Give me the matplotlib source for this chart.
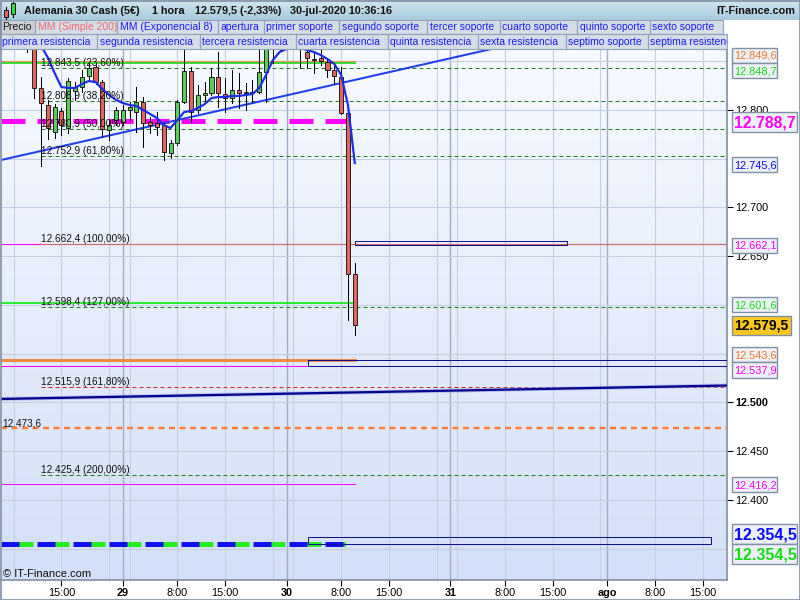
import matplotlib
matplotlib.use('Agg')
import matplotlib.pyplot as plt
import numpy as np
from matplotlib.patches import Rectangle
from matplotlib.colors import LinearSegmentedColormap
from matplotlib.transforms import Bbox, TransformedBbox

plt.rcParams['font.family'] = ['Liberation Sans', 'DejaVu Sans']
plt.rcParams['lines.scale_dashes'] = False

# ---------------- data ----------------
# hourly bars, hours relative to 29-jul-2020 00:00
hours = list(range(-14, 35))
opens = [12875, 12870, 12822.6, 12805.1, 12777.4, 12799.0, 12781.5, 12819.5, 12823.6, 12834.9,
         12844.1, 12828.7, 12779.5, 12789.7, 12787.7, 12800.0, 12798.0, 12808.2, 12787.7, 12786.6,
         12784.6, 12755.9, 12766.1, 12808.2, 12840.0, 12800.0, 12815.4, 12817.4, 12833.8, 12816.4,
         12812.3, 12820.5, 12817.4, 12817.4, 12818.4, 12839.0, 12871.8, 12868.0, 12872.0, 12870.0,
         12868.0, 12859.5, 12852.0, 12853.3, 12849.2, 12841.0, 12833.8, 12796.9, 12631.8]
highs = [12890, 12885, 12833.8, 12810.3, 12806.0, 12802.0, 12832.8, 12828.7, 12841.0, 12848.2,
         12846.1, 12830.8, 12789.7, 12803.0, 12805.0, 12808.2, 12823.6, 12813.3, 12792.8, 12798.0,
         12786.6, 12769.2, 12810.3, 12861.5, 12844.1, 12825.6, 12828.7, 12843.1, 12859.5, 12832.8,
         12841.0, 12837.9, 12827.7, 12830.8, 12864.6, 12880.0, 12882.0, 12878.0, 12880.0, 12876.0,
         12872.0, 12861.5, 12858.4, 12861.5, 12853.3, 12846.1, 12844.1, 12797.0, 12643.1]
lows = [12859.5, 12812.3, 12742.5, 12770.3, 12771.3, 12774.4, 12776.4, 12810.3, 12818.4, 12830.8,
        12826.7, 12772.3, 12769.2, 12785.0, 12784.6, 12789.7, 12777.4, 12762.0, 12776.4, 12774.4,
        12748.7, 12750.8, 12764.1, 12807.2, 12787.7, 12796.9, 12807.2, 12815.4, 12803.1, 12797.9,
        12807.2, 12802.0, 12800.0, 12808.2, 12817.4, 12808.2, 12848.2, 12862.0, 12866.0, 12864.0,
        12843.1, 12843.1, 12838.0, 12846.1, 12833.8, 12827.7, 12796.0, 12584.6, 12569.2]
closes = [12868, 12822.6, 12807.2, 12781.5, 12803.1, 12784.6, 12829.7, 12823.6, 12833.8, 12843.1,
          12828.7, 12780.5, 12784.6, 12800.0, 12800.0, 12803.1, 12808.2, 12786.6, 12784.6, 12782.5,
          12756.9, 12766.1, 12808.2, 12840.0, 12798.0, 12815.4, 12817.4, 12833.8, 12817.4, 12812.3,
          12820.5, 12817.4, 12818.4, 12818.4, 12839.0, 12871.8, 12868.0, 12872.0, 12870.0, 12866.0,
          12863.0, 12853.3, 12851.2, 12850.2, 12841.0, 12834.9, 12796.9, 12631.8, 12579.5]

ema_hours = list(range(-13, 35))
ema8 = [12878, 12866, 12854, 12838, 12823.6, 12822.6, 12822.6, 12826.7, 12829.7, 12828.7,
        12821.5, 12815.4, 12810.3, 12807.2, 12805.1, 12804.1, 12800.0, 12795.9, 12791.8, 12784.6,
        12781.5, 12789.7, 12798.0, 12799.0, 12802.0, 12806.1, 12812.3, 12813.3, 12813.3, 12814.4,
        12814.4, 12815.4, 12816.4, 12822.6, 12836.0, 12851.3, 12859.5, 12862.6, 12863.6, 12863.6,
        12861.5, 12859.5, 12856.4, 12852.3, 12847.2, 12836.0, 12805.1, 12745.6]

fib_levels = [12843.5, 12808.9, 12780.9, 12752.9, 12662.4, 12598.4, 12515.9, 12425.4]
fib_labels = ['12.843,5 (23,60%)', '12.808,9 (38,20%)', '12.780,9 (50,00%)', '12.752,9 (61,80%)',
              '12.662,4 (100,00%)', '12.598,4 (127,00%)', '12.515,9 (161,80%)', '12.425,4 (200,00%)']

orange_level = 12849.6
green_level = 12848.7
magenta_thick_level = 12788.7
magenta_level_1 = 12662.1
green_level_2 = 12601.6
orange_level_2 = 12543.6
magenta_level_2 = 12537.9
orange_dash_level = 12473.6
magenta_level_3 = 12416.2
bottom_level = 12354.5

trend_up_x = [-17.85, 55.3]
trend_up_y = [12748.7, 12864.6]
trend_low_x = [-17.85, 88.55]
trend_low_y = [12503.6, 12517.4]

rect_a = (34.1, 65.1, 12661.5, 12665.2)
rect_b = (27.07, 88.55, 12537.9, 12543.6)
rect_c = (27.07, 86.2, 12354.5, 12361.5)

xtick_pos = [-9, 0, 8, 15, 24, 32, 39, 48, 56, 63, 71, 78, 85]
xtick_lab = ['15:00', '29', '8:00', '15:00', '30', '8:00', '15:00', '31', '8:00', '15:00', 'ago', '8:00', '15:00']
day_labels = {'29', '30', '31', 'ago'}
grid_light = [-16, -9, -2, 1, 8, 15, 22, 25, 32, 39, 46, 49, 56, 63, 70, 78, 85]
grid_dark = [0, 24, 48, 71]
grid_y = [12350, 12400, 12450, 12500, 12550, 12600, 12650, 12700, 12750, 12800, 12850]
ytick_pos = [12400, 12450, 12500, 12650, 12700, 12800]

# ---------------- figure ----------------
W, H = 800, 600
PX = 0.72
fig = plt.figure(figsize=(8, 6), dpi=100)
fig.patch.set_facecolor('white')

AX_L, AX_R, AX_T, AX_B = 1, 727, 17, 580
ax = fig.add_axes([AX_L / W, 1 - AX_B / H, (AX_R - AX_L) / W, (AX_B - AX_T) / H])
XMIN, XMAX = -17.85, 88.55
YMIN, YMAX = 12317.9, 12895.4

grad = np.linspace(0, 1, 256).reshape(-1, 1)
bg = LinearSegmentedColormap.from_list('bg', ['#f9fbff', '#d4e0f7'])
ax.imshow(grad, extent=[XMIN, XMAX, YMIN, YMAX], origin='upper', aspect='auto', cmap=bg, zorder=0)
ax.set_xlim(XMIN, XMAX)
ax.set_ylim(YMIN, YMAX)

for v in grid_light:
    ax.axvline(v, color='#c6cfe0', lw=0.8, zorder=1)
for v in grid_dark:
    ax.axvline(v, color='#a2acc4', lw=1.0, zorder=1)
for p in grid_y:
    ax.axhline(p, color='#c6cfe0', lw=0.8, zorder=1)

x0, x_fib, x_end = XMIN, -12.0, XMAX
x_cut = 34.1

# fibonacci lines
for lev, lab in zip(fib_levels, fib_labels):
    if lab.startswith('12.662'):
        ax.plot([x0, x_fib], [magenta_level_1, magenta_level_1], color='#ff00ff', lw=1 * PX, zorder=2)
        ax.plot([x_fib, x_end], [lev, lev], color='#d06a6a', lw=1.2 * PX, zorder=2)
    elif lab.startswith('12.515'):
        ax.plot([x_fib, x_end], [lev, lev], color='#d42020', lw=1 * PX, dashes=(4 * PX, 3 * PX), zorder=2)
    else:
        ax.plot([x_fib, x_end], [lev, lev], color='#1e7d1e', lw=1 * PX, dashes=(4 * PX, 3 * PX), zorder=2)
    ax.text(x_fib, lev, lab, fontsize=7.2, va='bottom', ha='left', color='#111111', zorder=9)

# support / resistance lines
ax.plot([x0, x_cut], [orange_level] * 2, color='#f0904a', lw=2 * PX, zorder=3)
ax.plot([x0, x_cut], [green_level] * 2, color='#3cdc3c', lw=2 * PX, zorder=3)
ax.plot([x0, 33.4], [magenta_thick_level] * 2, color='#ff00ff', lw=5 * PX,
        dashes=(24 * PX, 12 * PX), solid_capstyle='butt', dash_capstyle='butt', zorder=3)
ax.plot([x0, x_cut], [green_level_2] * 2, color='#00ee00', lw=1.6 * PX, zorder=3)
ax.plot([x0, x_cut], [orange_level_2] * 2, color='#f08a3c', lw=3 * PX, zorder=3)
ax.plot([x0, 27.07], [magenta_level_2] * 2, color='#ff00ff', lw=1 * PX, zorder=3)
ax.plot([x0, x_end], [orange_dash_level] * 2, color='#ff7f3a', lw=2.5 * PX,
        dashes=(6 * PX, 4.5 * PX), dash_capstyle='butt', zorder=3)
ax.text(-17.6, orange_dash_level, '12.473,6', fontsize=7.2, va='bottom', ha='left', color='#111111', zorder=9)
ax.plot([x0, x_cut], [magenta_level_3] * 2, color='#ff00ff', lw=1 * PX, zorder=3)
ax.plot([x0, 32.6], [bottom_level] * 2, color='#1010ee', lw=5 * PX,
        dashes=(22 * PX, 14 * PX), dash_capstyle='butt', zorder=3)
ax.plot([x0, 32.6], [bottom_level] * 2, color='#22ee22', lw=5 * PX,
        dashes=(0, 18 * PX, 14 * PX, 4 * PX), dash_capstyle='butt', zorder=3)

for (ra, rb, rc, rd) in [rect_a, rect_b, rect_c]:
    ax.add_patch(Rectangle((ra, rc), rb - ra, rd - rc, fill=False, ec='#10108c', lw=1 * PX, zorder=4))

# trend lines
ax.plot(trend_up_x, trend_up_y, color='#1e3cf0', lw=2 * PX, zorder=4)
ax.plot(trend_low_x, trend_low_y, color='#9aa0e0', lw=4 * PX, zorder=4, alpha=0.6)
ax.plot(trend_low_x, trend_low_y, color='#00008e', lw=2.2 * PX, zorder=4)

# candles
for hh, o, hi, lo, c in zip(hours, opens, highs, lows, closes):
    col = '#e2645e' if c < o else '#5ccb5c'
    ax.plot([hh, hh], [lo, hi], color='black', lw=1 * PX, zorder=5)
    bot = min(o, c)
    ht = max(abs(c - o), 1.0)
    ax.add_patch(Rectangle((hh - 0.3, bot), 0.6, ht, fc=col, ec='black', lw=0.8 * PX, zorder=6))

# EMA 8
ax.plot(ema_hours, ema8, color='#1e2ce8', lw=2.2 * PX, zorder=7, solid_joinstyle='round')

# axes styling
for s in ['left', 'top']:
    ax.spines[s].set_visible(False)
for s in ['right', 'bottom']:
    ax.spines[s].set_color('#7f8fa3')
    ax.spines[s].set_linewidth(1.2)
ax.yaxis.tick_right()
ax.set_yticks(ytick_pos)
ax.set_yticklabels([f"{p/1000:.3f}" for p in ytick_pos])
for t, p in zip(ax.get_yticklabels(), ytick_pos):
    if p == 12500:
        t.set_fontweight('bold')
ax.tick_params(axis='y', length=4, width=0.8, pad=2, labelsize=7.8, colors='black')
ax.set_xticks(xtick_pos)
ax.set_xticklabels(xtick_lab)
for t in ax.get_xticklabels():
    if t.get_text() in day_labels:
        t.set_fontweight('bold')
        t.set_fontsize(8.5)
ax.tick_params(axis='x', length=4, width=0.8, pad=2, labelsize=7.8, colors='black')

# ---------------- overlay (header, legends, right labels) ----------------
ov = fig.add_axes([0, 0, 1, 1], zorder=10)
ov.patch.set_alpha(0)
hdr = LinearSegmentedColormap.from_list('hdr', ['#d2e6f0', '#a6cbdd'])
ov.imshow(grad, extent=[0, W, 20, 0], origin='upper', aspect='auto', cmap=hdr, zorder=1)
ov.set_xlim(0, W)
ov.set_ylim(H, 0)
ov.axis('off')

# header icon
ov.plot([5.5, 5.5], [7, 19], color='black', lw=0.8, zorder=2)
ov.add_patch(Rectangle((3.5, 10), 4, 7, fc='#e2645e', ec='black', lw=0.6, zorder=3))
ov.plot([13, 13], [1, 17], color='black', lw=0.8, zorder=2)
ov.add_patch(Rectangle((11, 3), 4, 11, fc='#38d838', ec='black', lw=0.6, zorder=3))
hk = dict(fontsize=7.8, fontweight='bold', va='center', ha='left', color='#111111', zorder=3)
ov.text(24, 10.5, 'Alemania 30 Cash (5€)', **hk)
ov.text(152, 10.5, '1 hora', **hk)
ov.text(195, 10.5, '12.579,5 (-2,33%)', **hk)
ov.text(290, 10.5, '30-jul-2020 10:36:16', **hk)
ov.text(795, 10.5, 'IT-Finance.com', fontsize=7.8, fontweight='bold', va='center', ha='right',
        color='#111111', zorder=3)

ov.add_patch(Rectangle((723, 20), 77, 14, fc='white', ec='none', zorder=2))
legend_row1 = [('Precio', 0, 35, '#111111', '#cdd1d6'),
               ('MM (Simple 200)', 35, 117, '#ef6a6a', '#d5dde9'),
               ('MM (Exponencial 8)', 117, 218, '#1c1cf4', '#d5dde9'),
               ('apertura', 218, 264, '#1c1cf4', '#d5dde9'),
               ('primer soporte', 264, 339, '#1c1cf4', '#d5dde9'),
               ('segundo soporte', 339, 427, '#1c1cf4', '#d5dde9'),
               ('tercer soporte', 427, 500, '#1c1cf4', '#d5dde9'),
               ('cuarto soporte', 500, 577, '#1c1cf4', '#d5dde9'),
               ('quinto soporte', 577, 650, '#1c1cf4', '#d5dde9'),
               ('sexto soporte', 650, 723, '#1c1cf4', '#d5dde9')]
legend_row2 = [('primera resistencia', 0, 97), ('segunda resistencia', 97, 200),
               ('tercera resistencia', 200, 296), ('cuarta resistencia', 296, 388),
               ('quinta resistencia', 388, 478), ('sexta resistencia', 478, 566),
               ('septimo soporte', 566, 648), ('septima resistencia', 648, 727)]

def legend_box(txt, a, b, y0, y1, color, fc):
    ov.add_patch(Rectangle((a, y0), b - a, y1 - y0, fc=fc, ec='#8ea2b8', lw=0.8, zorder=3))
    t = ov.text(a + 2.5, (y0 + y1) / 2 + 0.5, txt, fontsize=7.5, color=color, va='center', ha='left', zorder=4)
    t.set_clip_box(TransformedBbox(Bbox([[a, y0], [b, y1]]), ov.transData))
    t.set_clip_on(True)

for txt, a, b, col, fc in legend_row1:
    legend_box(txt, a, b, 20, 34, col, fc)
for txt, a, b in legend_row2:
    legend_box(txt, a, b, 34, 48.5, '#1c1cf4', '#d5dde9')

# right-side value labels: text, colour, top px, bottom px, right px, fontsize, weight, face
right_labels = [('12.849,6', '#f07a28', 48, 63, 777, 7.9, 'normal', '#edf1f7'),
                ('12.848,7', '#16dc16', 63, 78, 777, 7.9, 'normal', '#edf1f7'),
                ('12.788,7', '#ff00ff', 112, 132, 797, 11.3, 'bold', '#edf1f7'),
                ('12.745,6', '#0a0aff', 157, 172, 777, 7.9, 'normal', '#edf1f7'),
                ('12.662,1', '#ff00ff', 238, 253, 777, 7.9, 'normal', '#edf1f7'),
                ('12.601,6', '#16dc16', 297, 312, 777, 7.9, 'normal', '#edf1f7'),
                ('12.579,5', '#000000', 316, 335, 791, 10, 'bold', '#ffc81e'),
                ('12.543,6', '#f07a28', 347, 362, 777, 7.9, 'normal', '#edf1f7'),
                ('12.537,9', '#ff00ff', 362, 378, 777, 7.9, 'normal', '#edf1f7'),
                ('12.416,2', '#ff00ff', 477, 492, 777, 7.9, 'normal', '#edf1f7'),
                ('12.354,5', '#0a0aff', 524, 544, 797, 11.5, 'bold', '#edf1f7'),
                ('12.354,5', '#16dc16', 544, 564, 797, 11.5, 'bold', '#edf1f7')]
for txt, col, ya, yb, xr, fs, fw, fc in right_labels:
    ov.add_patch(Rectangle((732, ya), xr - 732, yb - ya, fc=fc, ec='#7f90a3', lw=1, zorder=5))
    ov.text(734, (ya + yb) / 2 + 0.5, txt, fontsize=fs, fontweight=fw, color=col,
            va='center', ha='left', zorder=6)

ov.text(3, 574, '© IT-Finance.com', fontsize=8, va='center', ha='left', color='#111111', zorder=5)
ov.add_patch(Rectangle((0.5, 0.5), 799, 599, fill=False, ec='#7f8fa3', lw=1.2, zorder=8))

fig.savefig('out.png', dpi=100)
